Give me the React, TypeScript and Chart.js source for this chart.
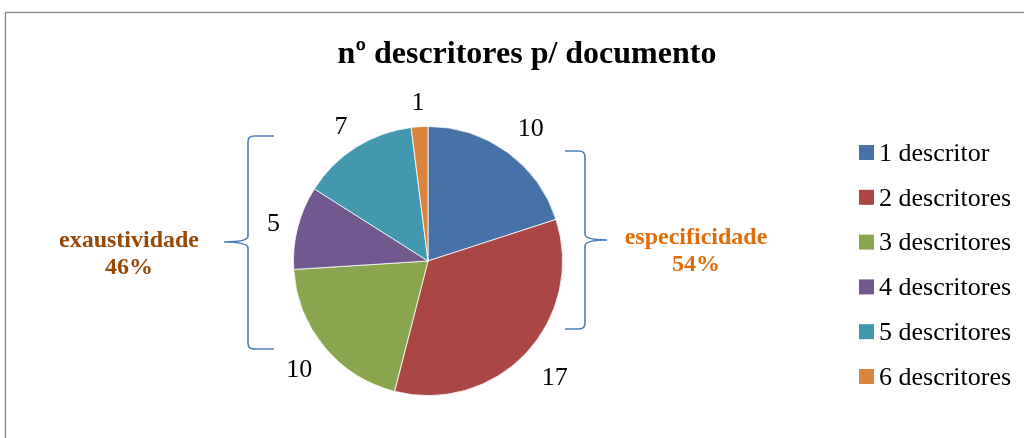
import React, { useEffect, useRef } from "react";
import { Chart, registerables } from "chart.js";

Chart.register(...registerables);

const title = "nº descritores p/ documento";
const categories = ["1 descritor", "2 descritores", "3 descritores", "4 descritores", "5 descritores", "6 descritores"];
const values = [10, 17, 10, 5, 7, 1];
const colors = ["#4672A8", "#AA4644", "#89A54E", "#71588F", "#4198AF", "#DB843D"];
const groupLeftLabel = ["exaustividade", "46%"];
const groupRightLabel = ["especificidade", "54%"];

const SERIF = '"Liberation Serif", "Times New Roman", serif';

const overlay = {
  id: "overlay",
  beforeDraw(chart: any) {
    const ctx = chart.ctx;
    ctx.save();
    ctx.fillStyle = "#ffffff";
    ctx.fillRect(0, 0, chart.width, chart.height);
    ctx.strokeStyle = "#868686";
    ctx.lineWidth = 1.3;
    ctx.strokeRect(5.5, 12.5, chart.width + 20, chart.height + 20);
    ctx.restore();
  },
  afterDraw(chart: any) {
    const ctx = chart.ctx;
    ctx.save();
    // title
    ctx.fillStyle = "#000";
    ctx.font = `bold 32px ${SERIF}`;
    ctx.textAlign = "center";
    ctx.textBaseline = "middle";
    ctx.fillText(title, 527, 55);

    // data labels
    const meta = chart.getDatasetMeta(0);
    ctx.font = `26px ${SERIF}`;
    meta.data.forEach((arc: any, i: number) => {
      const a = (arc.startAngle + arc.endAngle) / 2;
      const txt = String(chart.data.datasets[0].data[i]);
      const w = ctx.measureText(txt).width;
      const h = 20;
      const c = Math.cos(a), s = Math.sin(a);
      const d = arc.outerRadius + 16 + Math.abs(c) * w / 2 + Math.abs(s) * h / 2;
      ctx.fillText(txt, arc.x + c * d + (c > 0 ? 5 : 0), arc.y + s * d + 3);
    });

    // legend
    ctx.textAlign = "left";
    ctx.font = `26px ${SERIF}`;
    chart.data.labels.forEach((lab: string, i: number) => {
      const y = 152 + i * 44.8;
      ctx.fillStyle = chart.data.datasets[0].backgroundColor[i];
      ctx.fillRect(859, y - 7, 15, 15);
      ctx.fillStyle = "#000";
      ctx.fillText(lab, 879, y + 2);
    });

    // braces
    ctx.strokeStyle = "#4A7EBB";
    ctx.lineWidth = 1.6;
    const r = 6;
    // left brace
    ctx.beginPath();
    ctx.moveTo(274, 136);
    ctx.lineTo(248 + r, 136);
    ctx.quadraticCurveTo(248, 136, 248, 136 + r);
    ctx.lineTo(248, 242 - r);
    ctx.quadraticCurveTo(248, 242, 224, 242);
    ctx.quadraticCurveTo(248, 242, 248, 242 + r);
    ctx.lineTo(248, 349 - r);
    ctx.quadraticCurveTo(248, 349, 248 + r, 349);
    ctx.lineTo(274, 349);
    ctx.stroke();
    // right brace
    ctx.beginPath();
    ctx.moveTo(565, 151);
    ctx.lineTo(585 - r, 151);
    ctx.quadraticCurveTo(585, 151, 585, 151 + r);
    ctx.lineTo(585, 240 - r);
    ctx.quadraticCurveTo(585, 240, 607, 240);
    ctx.quadraticCurveTo(585, 240, 585, 240 + r);
    ctx.lineTo(585, 329 - r);
    ctx.quadraticCurveTo(585, 329, 585 - r, 329);
    ctx.lineTo(565, 329);
    ctx.stroke();

    // group labels
    ctx.textAlign = "center";
    ctx.font = `bold 24px ${SERIF}`;
    ctx.fillStyle = "#984807";
    ctx.fillText(groupLeftLabel[0], 129, 241);
    ctx.fillText(groupLeftLabel[1], 129, 268);
    ctx.fillStyle = "#E36C09";
    ctx.fillText(groupRightLabel[0], 696, 238);
    ctx.fillText(groupRightLabel[1], 696, 265);
    ctx.restore();
  },
};

export default function App() {
  const ref = useRef<HTMLCanvasElement | null>(null);
  useEffect(() => {
    document.body.style.margin = "0";
    if (!ref.current) return;
    const chart = new Chart(ref.current, {
      type: "pie",
      data: {
        labels: categories,
        datasets: [
          {
            data: values,
            backgroundColor: colors,
            borderColor: "#ffffff",
            borderWidth: 0.8,
          },
        ],
      },
      options: {
        animation: false,
        responsive: false,
        maintainAspectRatio: false,
        layout: { padding: { left: 293, right: 461, top: 126, bottom: 42 } },
        plugins: {
          legend: { display: false },
          title: { display: false },
          tooltip: { enabled: false },
        },
      },
      plugins: [overlay],
    });
    return () => chart.destroy();
  }, []);
  return (
    <div style={{ width: 1024, height: 438 }}>
      <canvas ref={ref} width={1024} height={438} style={{ display: "block" }} />
    </div>
  );
}
